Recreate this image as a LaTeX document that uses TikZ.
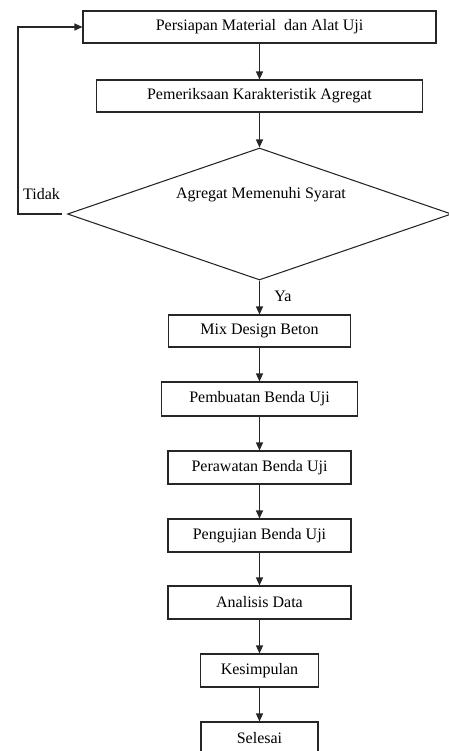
\documentclass[tikz,border=0pt]{standalone}
\usepackage{fontspec}
\setmainfont{Liberation Serif}
\usetikzlibrary{arrows.meta,shapes.geometric}
\tikzset{
	kotak/.style={draw=black!85, line width=0.8pt, rectangle, inner sep=0pt, font=\fontsize{12}{14}\selectfont},
	belah/.style={draw=black!85, line width=0.8pt, diamond, inner sep=0pt},
	panah/.style={draw=black!85, line width=0.8pt, -{Triangle[length=6pt,width=5.25pt]}},
	teks/.style={font=\fontsize{12}{14}\selectfont, inner sep=0pt}
}

\begin{document}
\begin{tikzpicture}[x=0.75pt, y=-0.75pt]
	%%%%% START %%%%%
	
	\useasboundingbox (0,0) rectangle (449,751);
	
	\node[kotak, minimum width=264.75pt, minimum height=24pt] (persiapan) at (259.5, 27) {Persiapan Material\ \ dan Alat Uji};
	\node[kotak, minimum width=244.5pt, minimum height=24pt] (periksa) at (259.5, 96) {Pemeriksaan Karakteristik Agregat};
	
	\node[belah, minimum width=288pt, minimum height=99pt] (syarat) at (259.5, 214) {};
	\node[teks] (syaratteks) at (261, 195) {Agregat Memenuhi Syarat};
	
	\node[kotak, minimum width=136.5pt, minimum height=24pt] (mix) at (259.5, 331) {Mix Design Beton};
	\node[kotak, minimum width=147pt, minimum height=25.5pt] (buat) at (259.5, 399) {Pembuatan Benda Uji};
	\node[kotak, minimum width=137.25pt, minimum height=24.75pt] (rawat) at (259.5, 467.5) {Perawatan Benda Uji};
	\node[kotak, minimum width=137.25pt, minimum height=24.75pt] (uji) at (259.5, 535.5) {Pengujian Benda Uji};
	\node[kotak, minimum width=137.25pt, minimum height=24.75pt] (analisis) at (259.5, 602.5) {Analisis Data};
	\node[kotak, minimum width=88.5pt, minimum height=24.75pt] (simpul) at (259.5, 670.5) {Kesimpulan};
	\node[kotak, minimum width=87.75pt, minimum height=24.75pt] (selesai) at (259.5, 738.5) {Selesai};
	
	\node[teks] (tidak) at (41.5, 194) {Tidak};
	\node[teks] (ya) at (283, 296) {Ya};
	
	\draw[panah] (persiapan.south) -- (periksa.north);
	\draw[panah] (periksa.south) -- (syarat.north);
	\draw[panah] (syarat.south) -- (mix.north);
	\draw[panah] (mix.south) -- (buat.north);
	\draw[panah] (buat.south) -- (rawat.north);
	\draw[panah] (rawat.south) -- (uji.north);
	\draw[panah] (uji.south) -- (analisis.north);
	\draw[panah] (analisis.south) -- (simpul.north);
	\draw[panah] (simpul.south) -- (selesai.north);
	
	\coordinate (tidakujung) at (62, 214);
	\coordinate (kiri) at (18, 214);
	\draw[panah] (tidakujung) -- (kiri) |- (persiapan.west);
	
	%%%%% END %%%%%
\end{tikzpicture}
\end{document}
